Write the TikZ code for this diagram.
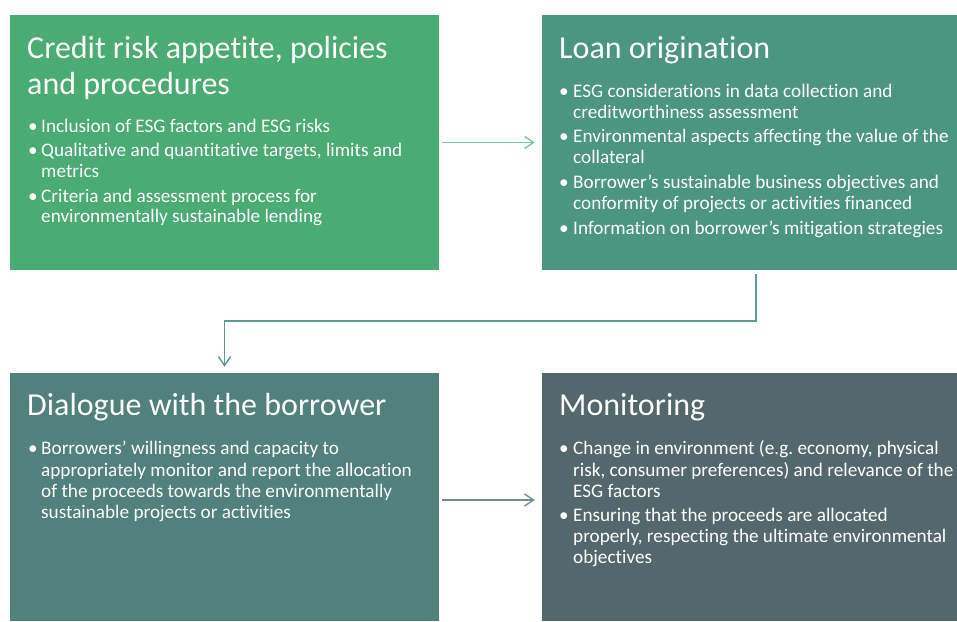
\documentclass[tikz,border=0pt]{standalone}
\usepackage{fontspec}
\setmainfont[Ligatures=NoCommon]{Carlito}
\usetikzlibrary{arrows.meta,calc}
\frenchspacing
\definecolor{cA}{HTML}{4AAB73}
\definecolor{cB}{HTML}{4C9580}
\definecolor{cC}{HTML}{51807D}
\definecolor{cD}{HTML}{53676C}
\definecolor{kA}{HTML}{80C89C}
\definecolor{kB}{HTML}{5E9B93}
\definecolor{kC}{HTML}{70908D}
\tikzset{
  box/.style={draw=none, inner sep=0, rectangle},
  ttl/.style={anchor=base west, inner sep=0, text=white, font=\fontsize{32pt}{36pt}\selectfont},
  itm/.style={anchor=base west, inner sep=0, text=white, font=\fontsize{19.2pt}{21pt}\selectfont},
  conn/.style={line width=1.4pt, -{Straight Barb[length=9pt,width=12pt,line width=1.4pt]}}
}
\begin{document}
\begin{tikzpicture}[x=1pt,y=-1pt]
\useasboundingbox (0,0) rectangle (957,621);
% boxes
\node[box, fill=cA, minimum width=429pt, minimum height=255pt] (b1) at (224.5,142.5) {};
\node[box, fill=cB, minimum width=415pt, minimum height=255pt] (b2) at (749.5,142.5) {};
\node[box, fill=cC, minimum width=429pt, minimum height=248pt] (b3) at (224.5,497) {};
\node[box, fill=cD, minimum width=415pt, minimum height=248pt] (b4) at (749.5,497) {};
% box 1
\node[ttl] (t1a) at (27,58) {Credit risk appetite, policies};
\node[ttl] (t1b) at (27,94) {and procedures};
\node[itm] (p1a) at (28,132) {•};
\node[itm] (a1) at (41,132) {Inclusion of ESG factors and ESG risks};
\node[itm] (p1b) at (28,156) {•};
\node[itm] (a2) at (41,156) {Qualitative and quantitative targets, limits and};
\node[itm] (a3) at (41,177) {metrics};
\node[itm] (p1c) at (28,202) {•};
\node[itm] (a4) at (41,202) {Criteria and assessment process for};
\node[itm] (a5) at (41,222) {environmentally sustainable lending};
% box 2
\node[ttl] (t2) at (559,58) {Loan origination};
\node[itm] (p2a) at (559,97) {•};
\node[itm] (b2l1) at (573,97) {ESG considerations in data collection and};
\node[itm] (b2l2) at (573,118) {creditworthiness assessment};
\node[itm] (p2b) at (559,142) {•};
\node[itm] (b2l3) at (573,142) {Environmental aspects affecting the value of the};
\node[itm] (b2l4) at (573,163) {collateral};
\node[itm] (p2c) at (559,188) {•};
\node[itm] (b2l5) at (573,188) {Borrower’s sustainable business objectives and};
\node[itm] (b2l6) at (573,209) {conformity of projects or activities financed};
\node[itm] (p2d) at (559,234) {•};
\node[itm] (b2l7) at (573,234) {Information on borrower’s mitigation strategies};
% box 3
\node[ttl] (t3) at (27,415) {Dialogue with the borrower};
\node[itm] (p3a) at (28,454) {•};
\node[itm] (c1) at (41,454) {Borrowers’ willingness and capacity to};
\node[itm] (c2) at (41,476) {appropriately monitor and report the allocation};
\node[itm] (c3) at (41,497) {of the proceeds towards the environmentally};
\node[itm] (c4) at (41,518) {sustainable projects or activities};
% box 4
\node[ttl] (t4) at (559,415) {Monitoring};
\node[itm] (p4a) at (559,454) {•};
\node[itm] (d1) at (573,454) {Change in environment (e.g. economy, physical};
\node[itm] (d2) at (573,476) {risk, consumer preferences) and relevance of the};
\node[itm] (d3) at (573,497) {ESG factors};
\node[itm] (p4b) at (559,521) {•};
\node[itm] (d4) at (573,521) {Ensuring that the proceeds are allocated};
\node[itm] (d5) at (573,542) {properly, respecting the ultimate environmental};
\node[itm] (d6) at (573,563) {objectives};
% connectors
\coordinate (m) at (490,321);
\draw[conn, draw=kA] ([xshift=3pt]b1.east) -- ([xshift=-7pt]b2.west);
\draw[conn, draw=kB] ([xshift=6.5pt,yshift=-4pt]b2.south) |- (m) -| ([yshift=6pt]b3.north);
\draw[conn, draw=kC] ([xshift=3pt,yshift=-3pt]b3.east) -- ([xshift=-7pt,yshift=-3pt]b4.west);
\end{tikzpicture}
\end{document}
